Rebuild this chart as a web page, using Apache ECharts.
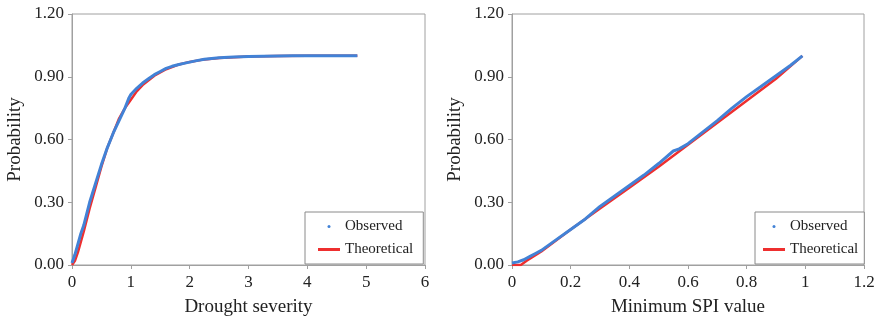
<!DOCTYPE html>
<html>
<head>
<meta charset="utf-8">
<script src="https://cdn.jsdelivr.net/npm/echarts@6/dist/echarts.min.js"></script>
<style>html,body{margin:0;padding:0;background:#fff}#c{width:882px;height:324px}</style>
</head>
<body>
<div id="c"></div>
<script>
// Left panel: drought severity CDF
const sevObsX = [0, 0.05, 0.1, 0.15, 0.2, 0.3, 0.4, 0.5, 0.6, 0.7, 0.8, 0.9, 0.97, 1.0, 1.1, 1.2, 1.3, 1.4, 1.5, 1.6, 1.7, 1.8, 1.9, 2.0, 2.1, 2.25, 2.5, 2.75, 3.0, 3.25, 3.5, 3.75, 4.0, 4.85];
const sevObsY = [0.01, 0.05, 0.10, 0.15, 0.19, 0.30, 0.39, 0.48, 0.56, 0.63, 0.69, 0.75, 0.80, 0.815, 0.845, 0.87, 0.89, 0.91, 0.925, 0.94, 0.95, 0.957, 0.964, 0.97, 0.976, 0.984, 0.991, 0.995, 0.997, 0.998, 0.999, 1.0, 1.0, 1.0];
const sevThX = [0, 0.05, 0.1, 0.2, 0.3, 0.4, 0.5, 0.6, 0.7, 0.8, 0.9, 1.0, 1.1, 1.2, 1.4, 1.6, 1.8, 2.0, 2.25, 2.5, 3.0, 3.5, 4.0, 4.85];
const sevThY = [0, 0.02, 0.06, 0.16, 0.27, 0.37, 0.47, 0.56, 0.63, 0.70, 0.75, 0.79, 0.83, 0.86, 0.905, 0.936, 0.957, 0.971, 0.983, 0.99, 0.997, 0.999, 1.0, 1.0];
// Right panel: minimum SPI CDF
const spiObsX = [0, 0.02, 0.04, 0.06, 0.08, 0.1, 0.15, 0.2, 0.25, 0.3, 0.35, 0.4, 0.45, 0.5, 0.55, 0.57, 0.6, 0.65, 0.7, 0.75, 0.8, 0.85, 0.9, 0.95, 0.99];
const spiObsY = [0.01, 0.015, 0.025, 0.04, 0.055, 0.07, 0.12, 0.17, 0.22, 0.28, 0.33, 0.38, 0.43, 0.485, 0.545, 0.555, 0.58, 0.635, 0.69, 0.75, 0.805, 0.855, 0.905, 0.955, 1.0];
const spiThX = [0, 0.03, 0.05, 0.1, 0.2, 0.3, 0.4, 0.5, 0.6, 0.7, 0.8, 0.9, 0.99];
const spiThY = [0, 0, 0.02, 0.065, 0.17, 0.27, 0.37, 0.47, 0.575, 0.68, 0.785, 0.89, 1.0];
const seriesNames = ['Observed', 'Theoretical'];
const xTitles = ['Drought severity', 'Minimum SPI value'];
const yTitle = 'Probability';

const zip = (a, b) => a.map((v, i) => [v, b[i]]);
const FONT = 'Liberation Serif';
const BLUE = '#4282d6', RED = '#ee2f2f', AX = '#a0a0a0';

function xAxis(idx, max, interval, fmt) {
  return {
    type: 'value', gridIndex: idx, min: 0, max: max, interval: interval,
    name: xTitles[idx], nameLocation: 'middle', nameGap: 33,
    nameTextStyle: { fontFamily: FONT, fontSize: 19, color: '#222' },
    axisLine: { show: true, lineStyle: { color: AX } },
    axisTick: { show: true, inside: false, length: 4, lineStyle: { color: AX } },
    axisLabel: { fontFamily: FONT, fontSize: 17, color: '#222', margin: 9, formatter: fmt },
    splitLine: { show: false }
  };
}
function yAxis(idx) {
  return {
    type: 'value', gridIndex: idx, min: 0, max: 1.2, interval: 0.3,
    name: yTitle, nameLocation: 'middle', nameGap: 47,
    nameTextStyle: { fontFamily: FONT, fontSize: 19, color: '#222' },
    axisLine: { show: true, lineStyle: { color: AX } },
    axisTick: { show: true, inside: false, length: 4, lineStyle: { color: AX } },
    axisLabel: { fontFamily: FONT, fontSize: 17, color: '#222', margin: 8, formatter: v => v.toFixed(2) },
    splitLine: { show: false }
  };
}
function legend(idx, left, padding) {
  return {
    show: true, orient: 'vertical', left: left, top: 212,
    padding: padding, itemGap: 8, itemWidth: 22, itemHeight: 3,
    borderColor: '#8a8a8a', borderWidth: 1, backgroundColor: '#fff',
    textStyle: { fontFamily: FONT, fontSize: 15, color: '#222' },
    data: [{ name: seriesNames[0] + (idx ? ' ' : ''), icon: 'circle' }, { name: seriesNames[1] + (idx ? ' ' : ''), icon: 'rect' }],
    formatter: n => n.trim()
  };
}
function series(idx, name, x, y, color, width, z) {
  return {
    type: 'line', name: name + (idx ? ' ' : ''), xAxisIndex: idx, yAxisIndex: idx,
    data: zip(x, y), showSymbol: false, smooth: false, z: z,
    lineStyle: { color: color, width: width }, itemStyle: { color: color },
    animation: false
  };
}

const chart = echarts.init(document.getElementById('c'), null, { renderer: 'canvas' });
chart.setOption({
  animation: false,
  grid: [
    { left: 72, top: 14, width: 353, height: 251, show: true, borderColor: AX, borderWidth: 1 },
    { left: 512, top: 14, width: 352, height: 251, show: true, borderColor: AX, borderWidth: 1 }
  ],
  xAxis: [xAxis(0, 6, 1), xAxis(1, 1.2, 0.2, v => String(Math.round(v * 10) / 10))],
  yAxis: [yAxis(0), yAxis(1)],
  legend: [legend(0, 305, [7, 10, 7, 13]), legend(1, 755, [7, 6, 7, 8])],
  series: [
    series(0, seriesNames[1], sevThX, sevThY, RED, 2.5, 2),
    series(0, seriesNames[0], sevObsX, sevObsY, BLUE, 3, 3),
    series(1, seriesNames[1], spiThX, spiThY, RED, 2.5, 2),
    series(1, seriesNames[0], spiObsX, spiObsY, BLUE, 3, 3)
  ]
});
</script>
</body>
</html>
